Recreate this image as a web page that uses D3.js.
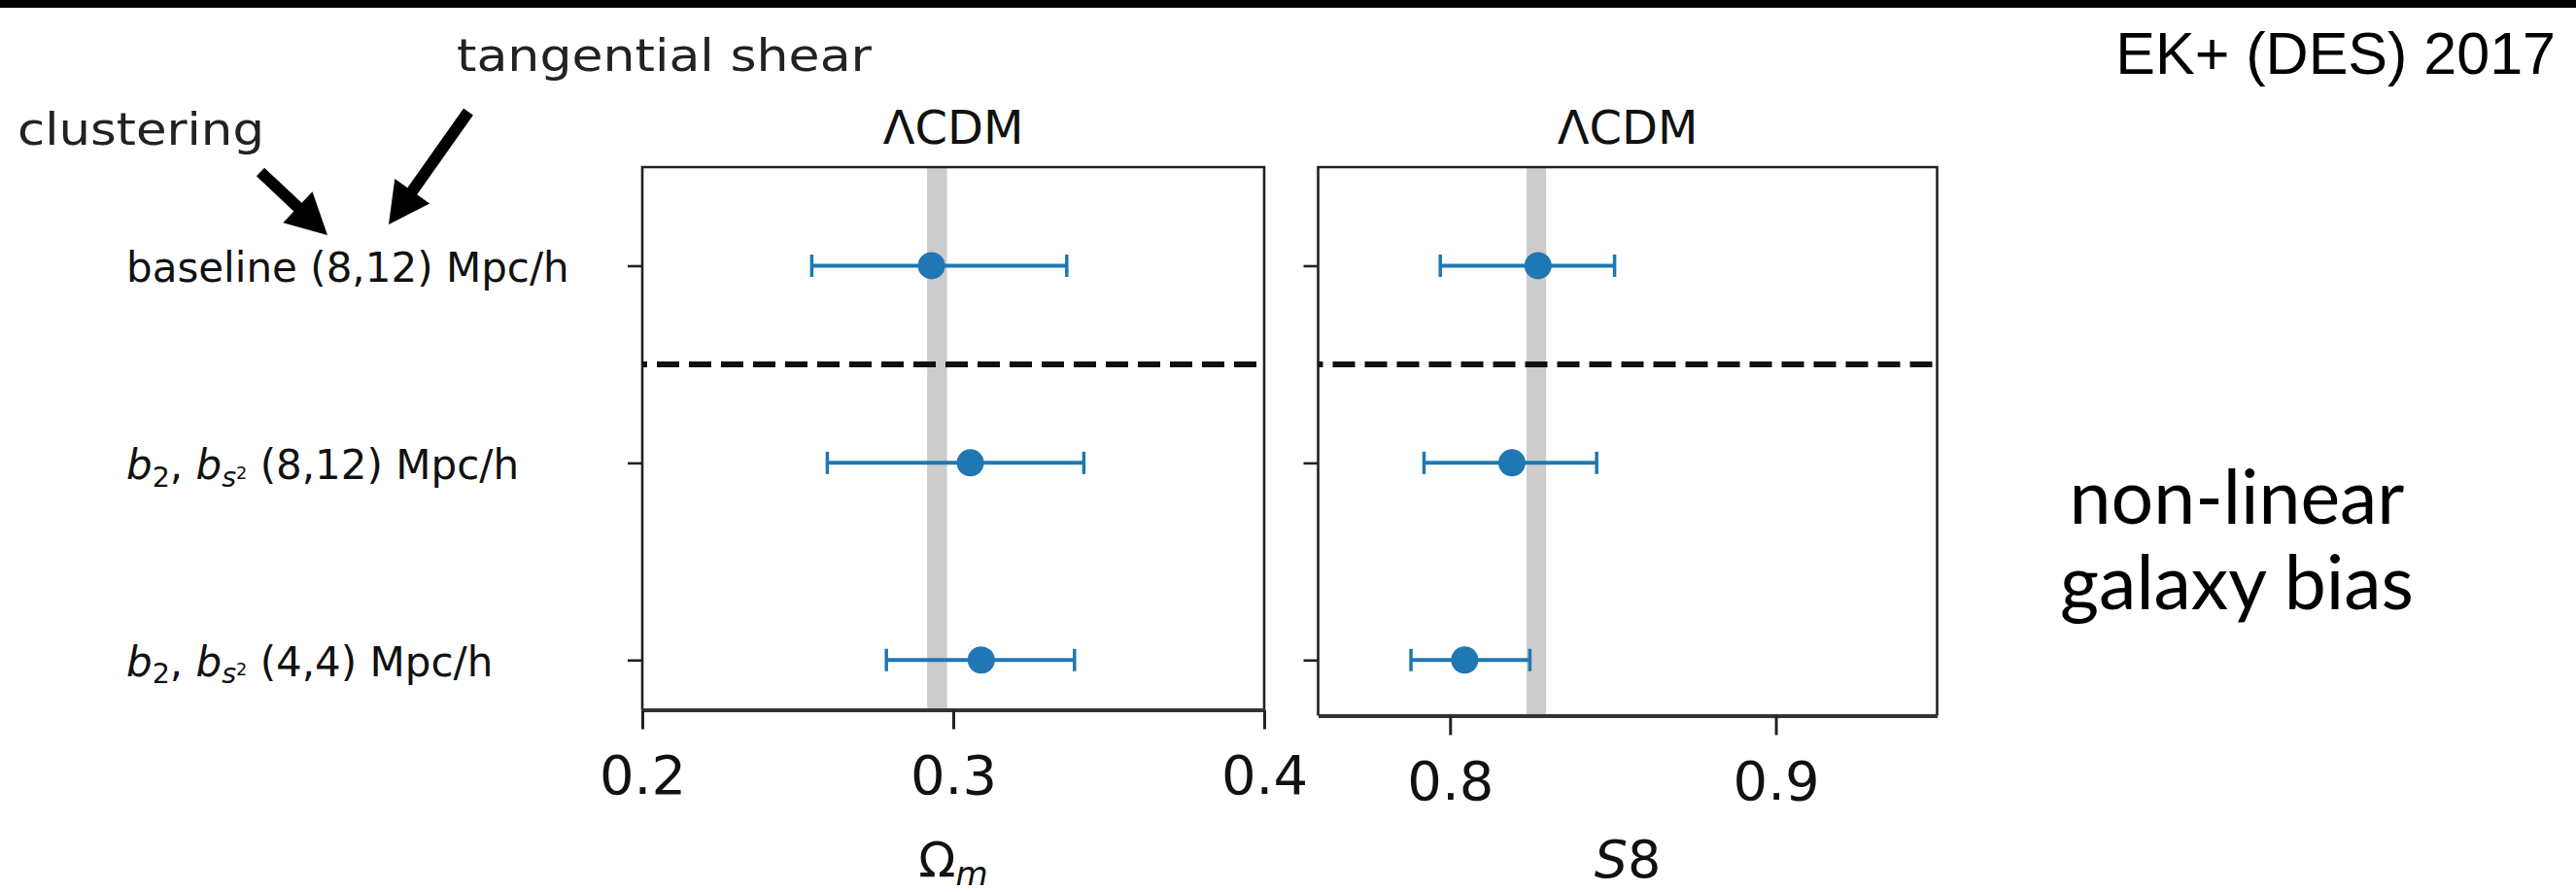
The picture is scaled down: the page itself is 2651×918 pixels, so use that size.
<!DOCTYPE html>
<html>
<head>
<meta charset="utf-8">
<script src="https://cdn.jsdelivr.net/npm/d3@7"></script>
<style>
  body { margin: 0; background: #fff; }
  svg text { font-family: "DejaVu Sans", sans-serif; white-space: pre; }
</style>
</head>
<body>
<div id="chart"></div>
<script>
// rows top -> bottom, $..$ parts are rendered like mathtext
const rowLabels = ["baseline (8,12) Mpc/h", "$b_2$, $b_{s^2}$ (8,12) Mpc/h", "$b_2$, $b_{s^2}$ (4,4) Mpc/h"];

// Omega_m best fit + lower/upper error
const omMid = [0.293, 0.3055, 0.309];
const omLo  = [0.2545, 0.2595, 0.2785];
const omHi  = [0.3365, 0.342, 0.339];
const omBand = [0.2916, 0.298];      // grey fiducial band
const omTicks = [0.2, 0.3, 0.4];
const omDomain = [0.2, 0.4];

// S8 same thing
const s8Mid = [0.827, 0.819, 0.8045];
const s8Lo  = [0.797, 0.792, 0.788];
const s8Hi  = [0.8505, 0.845, 0.8245];
const s8Band = [0.8235, 0.8295];
const s8Ticks = [0.8, 0.9];
const s8Domain = [0.7595, 0.9495];

const modelTitle = "ΛCDM";
const xLabels = ["$\\Omega_m$", "$S8$"];
const splitAt = 0.5;   // dashed line between baseline and the bias runs
const cornerNote = "EK+ (DES) 2017";
const sideNote = ["non-linear", "galaxy bias"];
const arrowNotes = ["clustering", "tangential shear"];

const W = 2651, H = 918;
const svg = d3.select("#chart").append("svg").attr("width", W).attr("height", H);
svg.append("rect").attr("width", W).attr("height", H).attr("fill", "#fff");
// black strip on top of the slide
svg.append("rect").attr("width", W).attr("height", 8).attr("fill", "#000");

const plotTop = 172;
const y = d3.scaleLinear().domain([-0.5, 2.25]).range([plotTop, 730]);
const blue = "#1f77b4";
const greek = { Omega: "Ω", Lambda: "Λ" };

// tiny mathtext: italics for letters, _ sub, ^ sup inside sub
function mathText(t, src, fs) {
  let cur = 0;
  const put = (s, o) => {
    const off = o.off || 0;
    t.append("tspan").text(s)
      .attr("font-size", o.size || fs)
      .attr("font-style", o.it ? "italic" : null)
      .attr("dy", off - cur);
    cur = off;
  };
  src.split("$").forEach((p, i) => {
    if (!p) return;
    if (i % 2 === 0) { put(p, {}); return; }
    let j = 0;
    while (j < p.length) {
      const c = p[j];
      if (c === "\\") {
        const m = p.slice(j).match(/^\\([A-Za-z]+)/);
        put(greek[m[1]], {}); j += m[0].length;
      } else if (c === "_") {
        let g;
        if (p[j + 1] === "{") { const k = p.indexOf("}", j); g = p.slice(j + 2, k); j = k + 1; }
        else { g = p[j + 1]; j += 2; }
        const [base, sup] = g.split("^");
        put(base, { size: fs * 0.68, it: /[a-z]/i.test(base), off: fs * 0.17 });
        if (sup) put(sup, { size: fs * 0.42, off: -fs * 0.02 });
      } else {
        put(c, { it: /[A-Za-z]/.test(c) });
        j++;
      }
    }
  });
}

const panels = [
  { x0: 661, x1: 1301, axisY: 730.5, mid: omMid, lo: omLo, hi: omHi, band: omBand, ticks: omTicks, domain: omDomain, label: xLabels[0], labelSize: 50, labelY: 902 },
  { x0: 1356.5, x1: 1993.5, axisY: 736.5, mid: s8Mid, lo: s8Lo, hi: s8Hi, band: s8Band, ticks: s8Ticks, domain: s8Domain, label: xLabels[1], labelSize: 54, labelY: 903 }
];

panels.forEach(p => {
  const x = d3.scaleLinear().domain(p.domain).range([p.x0, p.x1]);
  const g = svg.append("g");

  // grey band first so everything sits on top
  g.append("rect")
    .attr("x", x(p.band[0])).attr("width", x(p.band[1]) - x(p.band[0]))
    .attr("y", plotTop).attr("height", p.axisY - plotTop)
    .attr("fill", "#cccccc");

  // box: left, top, right spines
  g.append("path")
    .attr("d", `M${p.x0},${p.axisY}V${plotTop}H${p.x1}V${p.axisY}`)
    .attr("fill", "none").attr("stroke", "#222").attr("stroke-width", 2.6);

  // separator
  g.append("line")
    .attr("x1", p.x0).attr("x2", p.x1)
    .attr("y1", y(splitAt)).attr("y2", y(splitAt))
    .attr("stroke", "#111").attr("stroke-width", 6)
    .attr("stroke-dasharray", "23 10").attr("stroke-dashoffset", 18);

  // bottom axis
  const ax = g.append("g").attr("transform", `translate(0,${p.axisY})`)
    .call(d3.axisBottom(x).tickValues(p.ticks).tickFormat(d3.format(".1f"))
      .tickSize(20).tickSizeOuter(0).tickPadding(27));
  ax.attr("font-size", 56);
  ax.select(".domain").attr("stroke", "#333").attr("stroke-width", 4);
  ax.selectAll(".tick line").attr("stroke", "#222").attr("stroke-width", 3);
  ax.selectAll(".tick text").attr("fill", "#111");

  // left ticks, no labels
  const ay = g.append("g").attr("transform", `translate(${p.x0},0)`)
    .call(d3.axisLeft(y).tickValues(d3.range(rowLabels.length)).tickFormat("").tickSize(15));
  ay.select(".domain").remove();
  ay.selectAll(".tick line").attr("stroke", "#222").attr("stroke-width", 2.6);

  // error bars + points
  const rows = g.selectAll(".row").data(p.mid).join("g").attr("class", "row");
  rows.append("line")
    .attr("x1", (d, i) => x(p.lo[i])).attr("x2", (d, i) => x(p.hi[i]))
    .attr("y1", (d, i) => y(i)).attr("y2", (d, i) => y(i))
    .attr("stroke", blue).attr("stroke-width", 4);
  [p.lo, p.hi].forEach(arr => {
    rows.append("line")
      .attr("x1", (d, i) => x(arr[i])).attr("x2", (d, i) => x(arr[i]))
      .attr("y1", (d, i) => y(i) - 11.5).attr("y2", (d, i) => y(i) + 11.5)
      .attr("stroke", blue).attr("stroke-width", 3.5);
  });
  rows.append("circle")
    .attr("cx", d => x(d)).attr("cy", (d, i) => y(i)).attr("r", 14)
    .attr("fill", blue);

  // title + x label
  g.append("text").attr("x", (p.x0 + p.x1) / 2).attr("y", 148)
    .attr("text-anchor", "middle").attr("font-size", 48).attr("fill", "#111")
    .text(modelTitle);
  const xl = g.append("text").attr("x", (p.x0 + p.x1) / 2).attr("y", p.labelY)
    .attr("text-anchor", "middle").attr("fill", "#111");
  mathText(xl, p.label, p.labelSize);
});

// row labels (left aligned like the slide)
rowLabels.forEach((s, i) => {
  const t = svg.append("text").attr("x", 130).attr("y", y(i) + 17).attr("fill", "#111");
  mathText(t, s, 42);
});

// annotations with arrows
svg.append("text").attr("x", 18).attr("y", 149).attr("font-size", 46)
  .attr("textLength", 254).attr("lengthAdjust", "spacingAndGlyphs").attr("fill", "#222")
  .text(arrowNotes[0]);
svg.append("text").attr("x", 470).attr("y", 73).attr("font-size", 46)
  .attr("textLength", 427).attr("lengthAdjust", "spacingAndGlyphs").attr("fill", "#222")
  .text(arrowNotes[1]);

function arrowPts(x0, y0, x1, y1, sw, hw, hl) {
  const L = Math.hypot(x1 - x0, y1 - y0);
  const ux = (x1 - x0) / L, uy = (y1 - y0) / L, nx = -uy, ny = ux;
  const bx = x1 - ux * hl, by = y1 - uy * hl;
  return [
    [x0 + nx * sw / 2, y0 + ny * sw / 2], [bx + nx * sw / 2, by + ny * sw / 2],
    [bx + nx * hw / 2, by + ny * hw / 2], [x1, y1],
    [bx - nx * hw / 2, by - ny * hw / 2], [bx - nx * sw / 2, by - ny * sw / 2],
    [x0 - nx * sw / 2, y0 - ny * sw / 2]
  ];
}
[[268, 177, 337, 242], [482, 115, 400, 231]].forEach(a => {
  svg.append("polygon")
    .attr("points", arrowPts(a[0], a[1], a[2], a[3], 12, 44, 42).map(q => q.join(",")).join(" "))
    .attr("fill", "#000");
});

// css sets DejaVu on all text, so these need style() not attr()
svg.append("text").attr("x", 2630).attr("y", 76).attr("text-anchor", "end")
  .style("font-family", "'Liberation Sans', Arial, sans-serif").attr("font-size", 61).attr("fill", "#000")
  .text(cornerNote);

sideNote.forEach((s, i) => {
  svg.append("text").attr("x", 2302).attr("y", 539 + i * 87.5).attr("text-anchor", "middle")
    .style("font-family", "Lato, sans-serif").attr("font-size", 77).attr("fill", "#000")
    .text(s);
});
</script>
</body>
</html>
